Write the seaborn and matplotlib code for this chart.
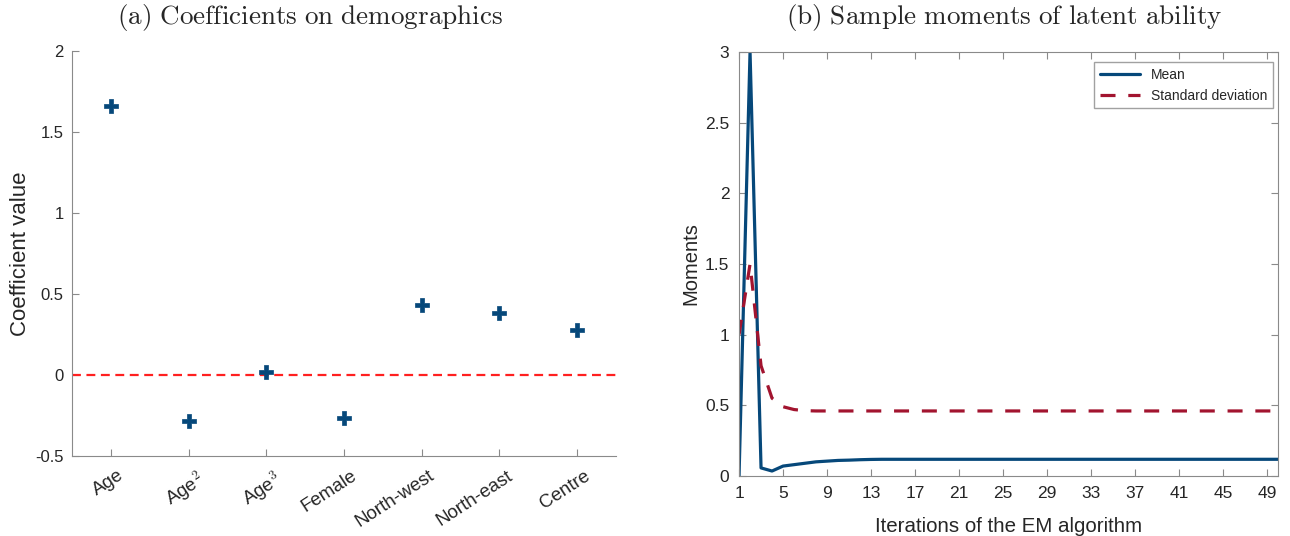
import matplotlib
matplotlib.use("Agg")
import matplotlib.pyplot as plt
import matplotlib.transforms as mtransforms
import seaborn as sns
import pandas as pd

sns.set_style("ticks")
plt.rcParams.update({'font.size': 12, 'axes.unicode_minus': False, 'mathtext.fontset': 'cm'})
plt.rcParams['font.family'] = ['Liberation Sans', 'DejaVu Sans']
plt.rcParams['font.sans-serif'] = ['Liberation Sans', 'DejaVu Sans']
plt.rcParams['mathtext.rm'] = 'Liberation Sans'
plt.rcParams['mathtext.it'] = 'Liberation Sans:italic'
plt.rcParams['mathtext.bf'] = 'Liberation Sans:bold'

# Panel (a): coefficients on demographics
categories = ["Age", "Age$^{2}$", "Age$^{3}$", "Female", "North-west", "North-east", "Centre"]
coefs = [1.66, -0.285, 0.02, -0.265, 0.43, 0.38, 0.28]

# Panel (b): sample moments across EM iterations
iterations = list(range(1, 51))
mean_vals = [0.0, 3.0, 0.057, 0.035, 0.07, 0.08, 0.09, 0.10, 0.105, 0.11,
             0.112, 0.115, 0.117, 0.118, 0.118, 0.118, 0.118, 0.118, 0.118, 0.118,
             0.118, 0.118, 0.118, 0.118, 0.118, 0.118, 0.118, 0.118, 0.118, 0.118,
             0.118, 0.118, 0.118, 0.118, 0.118, 0.118, 0.118, 0.118, 0.118, 0.118,
             0.118, 0.118, 0.118, 0.118, 0.118, 0.118, 0.118, 0.118, 0.118, 0.118]
sd_vals = [1.0, 1.5, 0.78, 0.55, 0.49, 0.47, 0.462, 0.46, 0.46, 0.46,
           0.46, 0.46, 0.46, 0.46, 0.46, 0.46, 0.46, 0.46, 0.46, 0.46,
           0.46, 0.46, 0.46, 0.46, 0.46, 0.46, 0.46, 0.46, 0.46, 0.46,
           0.46, 0.46, 0.46, 0.46, 0.46, 0.46, 0.46, 0.46, 0.46, 0.46,
           0.46, 0.46, 0.46, 0.46, 0.46, 0.46, 0.46, 0.46, 0.46, 0.46]

df_a = pd.DataFrame({"pos": range(len(categories)), "coef": coefs})
df_b = pd.concat([
    pd.DataFrame({"it": iterations, "val": mean_vals, "Moment": "Mean"}),
    pd.DataFrame({"it": iterations, "val": sd_vals, "Moment": "Standard deviation"}),
])

blue = "#06487a"
red = "#a2142f"
grey = "#8a8a8a"

fig = plt.figure(figsize=(12.9, 5.36), dpi=100)
ax0 = fig.add_axes([0.0558, 0.1493, 0.4217, 0.7556])
ax1 = fig.add_axes([0.5729, 0.112, 0.4178, 0.791])

# (a)
ax0.axhline(0, color="#ff2020", linestyle=(0, (4, 2.5)), linewidth=1.6, zorder=1)
sns.scatterplot(x="pos", y="coef", data=df_a, marker="P", s=110, color=blue,
                edgecolor=blue, linewidth=0.5, zorder=3, ax=ax0)
ax0.set_xlim(-0.5, 6.5)
ax0.set_ylim(-0.5, 2)
ax0.set_yticks([-0.5, 0, 0.5, 1, 1.5, 2], ["-0.5", "0", "0.5", "1", "1.5", "2"])
ax0.set_xticks(range(len(categories)), categories, rotation=33, ha="right", va="top",
               rotation_mode="anchor")
ax0.tick_params(direction="in", length=5, color=grey)
ax0.tick_params(axis="x", labelsize=13.5, pad=8)
ax0.tick_params(axis="y", labelsize=12, pad=6)
offset = mtransforms.ScaledTranslation(7 / 100, 0, fig.dpi_scale_trans)
for lab in ax0.get_xticklabels():
    lab.set_transform(lab.get_transform() + offset)
ax0.set_xlabel("")
ax0.set_ylabel("Coefficient value", fontsize=16)
ax0.yaxis.set_label_coords(-0.075, 0.5)
sns.despine(ax=ax0)
for s in ["left", "bottom"]:
    ax0.spines[s].set_color(grey)
fig.text(310 / 1290, 0.968, r"$\mathrm{(a)\ Coefficients\ on\ demographics}$",
         math_fontfamily="cm", fontsize=19.5, ha="center", va="center")

# (b)
sns.lineplot(x="it", y="val", hue="Moment", style="Moment", data=df_b,
             palette=[blue, red], dashes=[(None, None), (4.7, 4)],
             linewidth=2.3, ax=ax1)
ax1.set_xlim(1, 50)
ax1.set_ylim(0, 3)
ax1.set_xticks(range(1, 50, 4))
ax1.set_yticks([0, 0.5, 1, 1.5, 2, 2.5, 3], ["0", "0.5", "1", "1.5", "2", "2.5", "3"])
ax1.set_xlabel("Iterations of the EM algorithm", fontsize=14.8, labelpad=12)
ax1.set_ylabel("Moments", fontsize=14.5)
ax1.yaxis.set_label_coords(-0.072, 0.5)
ax1.tick_params(direction="in", length=5, color=grey, labelsize=12.5,
                top=True, right=True, pad=7)
for s in ax1.spines.values():
    s.set_color(grey)
ax1.legend(title=None, loc="upper right", fontsize=10, frameon=True, fancybox=False,
           edgecolor=grey, borderpad=0.4, handlelength=2.9, labelspacing=0.5,
           borderaxespad=0, bbox_to_anchor=(0.991, 0.976))
fig.text(1004 / 1290, 0.968, r"$\mathrm{(b)\ Sample\ moments\ of\ latent\ ability}$",
         math_fontfamily="cm", fontsize=19.5, ha="center", va="center")

plt.savefig("out.png", dpi=100)
